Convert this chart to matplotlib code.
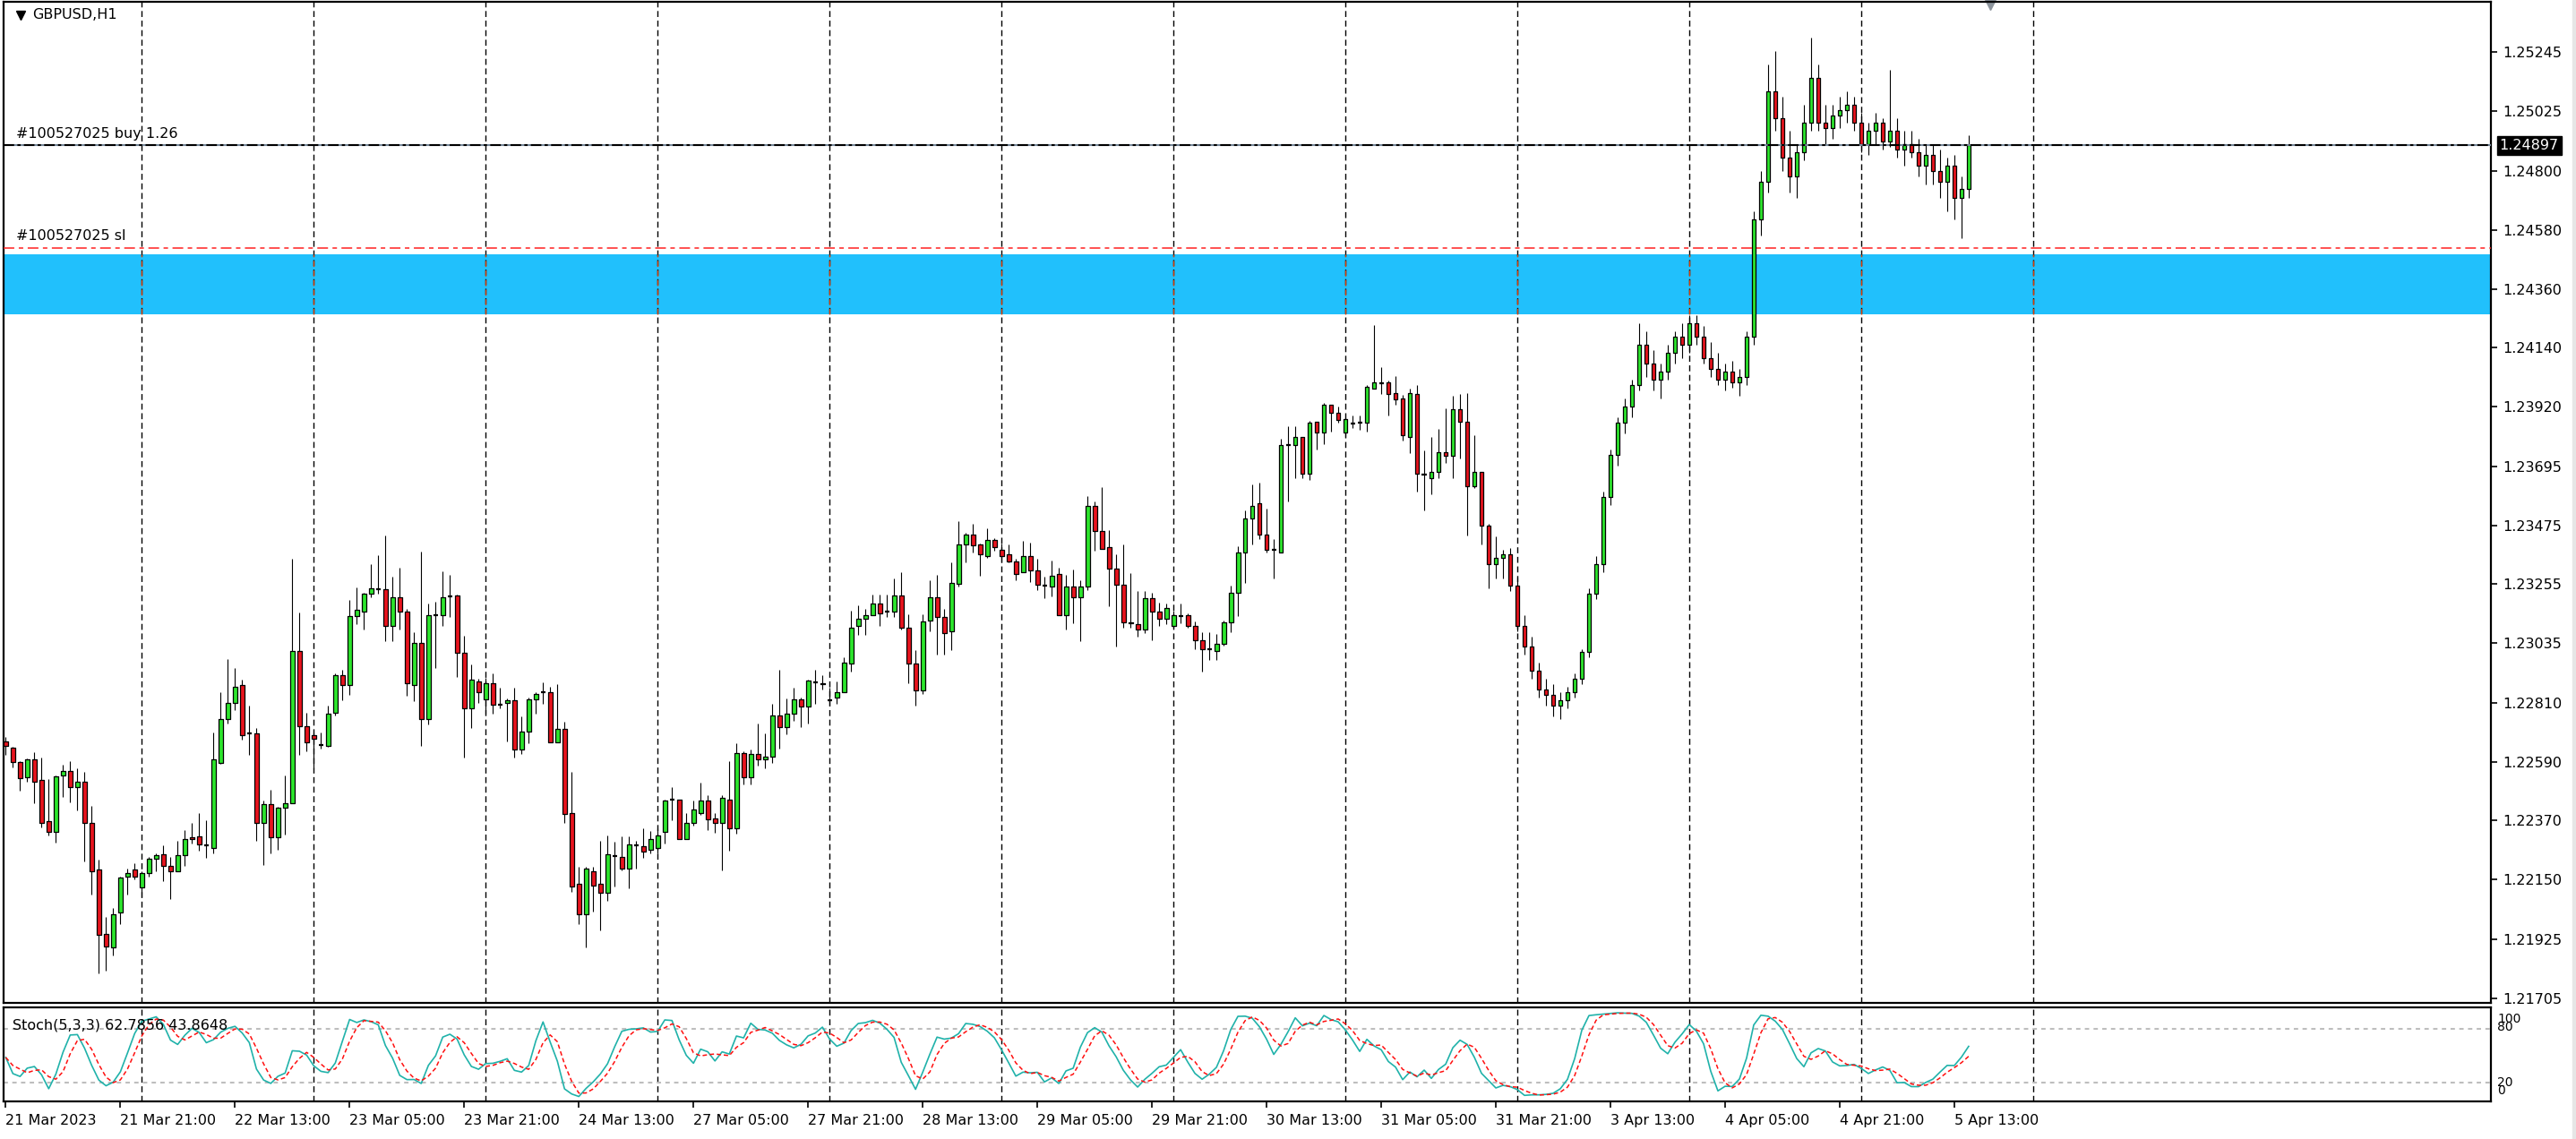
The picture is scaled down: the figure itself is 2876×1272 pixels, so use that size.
import numpy as np
import pandas as pd
import matplotlib
matplotlib.use("Agg")
import matplotlib.pyplot as plt
import matplotlib.transforms as mtransforms
from matplotlib.patches import Rectangle
from matplotlib.collections import PatchCollection

plt.rcParams["font.family"] = "DejaVu Sans"
plt.rcParams["lines.scale_dashes"] = False

# --- data -------------------------------------------------------------
symbol = "GBPUSD,H1"
first_bar_time = "2023-03-21 05:00"

opens = [
    1.22665, 1.22643, 1.22590, 1.22531, 1.22598, 1.22523, 1.22369, 1.22327, 1.22539, 1.22556,
    1.22497, 1.22516, 1.22361, 1.22188, 1.21947, 1.21897, 1.22025, 1.22160, 1.22188, 1.22121,
    1.22173, 1.22229, 1.22243, 1.22201, 1.22179, 1.22240, 1.22307, 1.22310, 1.22279, 1.22268,
    1.22587, 1.22751, 1.22812, 1.22879, 1.22695, 1.22698, 1.22362, 1.22431, 1.22308, 1.22417,
    1.22436, 1.23006, 1.22725, 1.22691, 1.22654, 1.22649, 1.22775, 1.22914, 1.22878, 1.23134,
    1.23151, 1.23218, 1.23237, 1.23235, 1.23098, 1.23207, 1.23153, 1.22878, 1.23034, 1.22749,
    1.23140, 1.23140, 1.23210, 1.23213, 1.22998, 1.22790, 1.22892, 1.22825, 1.22885, 1.22805,
    1.22810, 1.22819, 1.22635, 1.22704, 1.22825, 1.22849, 1.22851, 1.22663, 1.22712, 1.22397,
    1.22134, 1.22019, 1.22182, 1.22134, 1.22099, 1.22238, 1.22235, 1.22192, 1.22279, 1.22274,
    1.22260, 1.22268, 1.22327, 1.22447, 1.22447, 1.22300, 1.22361, 1.22397, 1.22444, 1.22377,
    1.22361, 1.22449, 1.22341, 1.22624, 1.22534, 1.22620, 1.22600, 1.22610, 1.22763, 1.22721,
    1.22771, 1.22824, 1.22797, 1.22888, 1.22883, 1.22821, 1.22830, 1.22851, 1.22959, 1.23098,
    1.23126, 1.23139, 1.23181, 1.23153, 1.23153, 1.23214, 1.23091, 1.22959, 1.22857, 1.23119,
    1.23206, 1.23132, 1.23078, 1.23257, 1.23402, 1.23441, 1.23402, 1.23361, 1.23421, 1.23385,
    1.23366, 1.23340, 1.23299, 1.23359, 1.23307, 1.23251, 1.23246, 1.23294, 1.23139, 1.23246,
    1.23206, 1.23246, 1.23547, 1.23454, 1.23393, 1.23313, 1.23253, 1.23111, 1.23106, 1.23086,
    1.23201, 1.23153, 1.23126, 1.23098, 1.23137, 1.23139, 1.23098, 1.23044, 1.23011, 1.23005,
    1.23031, 1.23111, 1.23221, 1.23374, 1.23500, 1.23556, 1.23441, 1.23383, 1.23374, 1.23776,
    1.23774, 1.23804, 1.23667, 1.23863, 1.23821, 1.23925, 1.23897, 1.23821, 1.23856, 1.23860,
    1.23860, 1.23988, 1.24007, 1.24011, 1.23971, 1.23951, 1.23807, 1.23966, 1.23664, 1.23653,
    1.23675, 1.23750, 1.23734, 1.23910, 1.23862, 1.23622, 1.23675, 1.23474, 1.23331, 1.23354,
    1.23368, 1.23250, 1.23100, 1.23020, 1.22930, 1.22860, 1.22840, 1.22800, 1.22820, 1.22850,
    1.22900, 1.23000, 1.23220, 1.23330, 1.23580, 1.23740, 1.23860, 1.23920, 1.24000, 1.24150,
    1.24080, 1.24020, 1.24050, 1.24120, 1.24180, 1.24150, 1.24230, 1.24180, 1.24100, 1.24060,
    1.24020, 1.24050, 1.24010, 1.24030, 1.24180, 1.24620, 1.24760, 1.25100, 1.25000, 1.24850,
    1.24780, 1.24870, 1.24980, 1.25150, 1.24980, 1.24960, 1.25010, 1.25030, 1.25050, 1.24980,
    1.24900, 1.24950, 1.24980, 1.24910, 1.24950, 1.24880, 1.24900, 1.24870, 1.24820, 1.24860,
    1.24800, 1.24760, 1.24820, 1.24700, 1.24734,
]
highs = [
    1.22684, 1.22646, 1.22592, 1.22603, 1.22626, 1.22606, 1.22525, 1.22539, 1.22579, 1.22592,
    1.22565, 1.22552, 1.22425, 1.22224, 1.22008, 1.22043, 1.22162, 1.22190, 1.22210, 1.22179,
    1.22233, 1.22249, 1.22277, 1.22235, 1.22296, 1.22335, 1.22363, 1.22397, 1.22371, 1.22701,
    1.22852, 1.22974, 1.22941, 1.22899, 1.22799, 1.22718, 1.22445, 1.22484, 1.22423, 1.22539,
    1.23350, 1.23149, 1.22774, 1.22699, 1.22699, 1.22799, 1.22922, 1.22933, 1.23196, 1.23243,
    1.23224, 1.23330, 1.23363, 1.23436, 1.23283, 1.23317, 1.23162, 1.23075, 1.23377, 1.23182,
    1.23190, 1.23304, 1.23291, 1.23215, 1.23062, 1.22954, 1.22900, 1.22903, 1.22920, 1.22866,
    1.22827, 1.22866, 1.22760, 1.22829, 1.22852, 1.22886, 1.22871, 1.22880, 1.22740, 1.22551,
    1.22196, 1.22196, 1.22196, 1.22296, 1.22316, 1.22291, 1.22310, 1.22310, 1.22294, 1.22343,
    1.22330, 1.22341, 1.22450, 1.22497, 1.22450, 1.22397, 1.22445, 1.22512, 1.22464, 1.22397,
    1.22464, 1.22592, 1.22659, 1.22631, 1.22637, 1.22732, 1.22698, 1.22807, 1.22933, 1.22827,
    1.22866, 1.22832, 1.22899, 1.22933, 1.22913, 1.22866, 1.22892, 1.22980, 1.23154, 1.23175,
    1.23162, 1.23215, 1.23215, 1.23215, 1.23276, 1.23301, 1.23142, 1.23008, 1.23142, 1.23268,
    1.23288, 1.23162, 1.23335, 1.23489, 1.23447, 1.23482, 1.23408, 1.23463, 1.23428, 1.23408,
    1.23402, 1.23349, 1.23416, 1.23410, 1.23349, 1.23282, 1.23343, 1.23315, 1.23290, 1.23309,
    1.23268, 1.23583, 1.23564, 1.23617, 1.23456, 1.23368, 1.23402, 1.23296, 1.23229, 1.23229,
    1.23221, 1.23187, 1.23182, 1.23154, 1.23182, 1.23147, 1.23114, 1.23075, 1.23076, 1.23067,
    1.23120, 1.23249, 1.23396, 1.23530, 1.23629, 1.23636, 1.23536, 1.23422, 1.23798, 1.23845,
    1.23845, 1.23804, 1.23865, 1.23863, 1.23932, 1.23925, 1.23919, 1.23877, 1.23885, 1.23885,
    1.23999, 1.24226, 1.24066, 1.24018, 1.24033, 1.23964, 1.23985, 1.23999, 1.23757, 1.23804,
    1.23837, 1.23912, 1.23960, 1.23966, 1.23971, 1.23813, 1.23675, 1.23482, 1.23435, 1.23383,
    1.23390, 1.23280, 1.23140, 1.23060, 1.22960, 1.22900, 1.22880, 1.22850, 1.22870, 1.22920,
    1.23010, 1.23240, 1.23360, 1.23600, 1.23760, 1.23880, 1.23950, 1.24020, 1.24230, 1.24200,
    1.24130, 1.24080, 1.24150, 1.24200, 1.24230, 1.24260, 1.24260, 1.24220, 1.24160, 1.24120,
    1.24080, 1.24090, 1.24060, 1.24200, 1.24650, 1.24800, 1.25200, 1.25250, 1.25080, 1.24950,
    1.24900, 1.25050, 1.25300, 1.25200, 1.25050, 1.25050, 1.25080, 1.25100, 1.25080, 1.25020,
    1.24980, 1.25020, 1.25000, 1.25180, 1.25000, 1.24950, 1.24950, 1.24920, 1.24900, 1.24900,
    1.24880, 1.24850, 1.24860, 1.24780, 1.24935,
]
lows = [
    1.22615, 1.22568, 1.22481, 1.22514, 1.22434, 1.22346, 1.22313, 1.22287, 1.22460, 1.22440,
    1.22407, 1.22218, 1.22092, 1.21799, 1.21810, 1.21864, 1.21983, 1.22092, 1.22151, 1.22084,
    1.22159, 1.22179, 1.22145, 1.22078, 1.22179, 1.22199, 1.22285, 1.22259, 1.22231, 1.22246,
    1.22581, 1.22734, 1.22782, 1.22674, 1.22615, 1.22293, 1.22205, 1.22246, 1.22260, 1.22319,
    1.22434, 1.22615, 1.22628, 1.22568, 1.22641, 1.22646, 1.22762, 1.22822, 1.22842, 1.23104,
    1.23084, 1.23205, 1.23218, 1.23043, 1.23043, 1.23084, 1.22836, 1.22816, 1.22649, 1.22729,
    1.22942, 1.23098, 1.23131, 1.22909, 1.22607, 1.22716, 1.22811, 1.22769, 1.22769, 1.22792,
    1.22668, 1.22607, 1.22620, 1.22661, 1.22769, 1.22808, 1.22663, 1.22663, 1.22360, 1.22104,
    1.21983, 1.21897, 1.22030, 1.21958, 1.22071, 1.22125, 1.22185, 1.22118, 1.22192, 1.22231,
    1.22248, 1.22246, 1.22285, 1.22372, 1.22300, 1.22300, 1.22352, 1.22391, 1.22333, 1.22326,
    1.22185, 1.22259, 1.22321, 1.22506, 1.22506, 1.22575, 1.22565, 1.22585, 1.22640, 1.22693,
    1.22743, 1.22721, 1.22735, 1.22808, 1.22862, 1.22802, 1.22808, 1.22851, 1.22929, 1.23064,
    1.23064, 1.23139, 1.23097, 1.23131, 1.23131, 1.23084, 1.22883, 1.22802, 1.22843, 1.23078,
    1.22991, 1.22991, 1.23009, 1.23246, 1.23338, 1.23372, 1.23285, 1.23352, 1.23380, 1.23335,
    1.23338, 1.23270, 1.23299, 1.23264, 1.23232, 1.23204, 1.23210, 1.23139, 1.23084, 1.23109,
    1.23042, 1.23232, 1.23380, 1.23387, 1.23171, 1.23022, 1.23091, 1.23091, 1.23058, 1.23072,
    1.23044, 1.23097, 1.23104, 1.23092, 1.23109, 1.23091, 1.23011, 1.22929, 1.22970, 1.22970,
    1.23024, 1.23076, 1.23137, 1.23259, 1.23405, 1.23424, 1.23372, 1.23277, 1.23372, 1.23564,
    1.23653, 1.23653, 1.23645, 1.23759, 1.23779, 1.23826, 1.23860, 1.23807, 1.23840, 1.23834,
    1.23826, 1.23988, 1.23968, 1.23885, 1.23927, 1.23793, 1.23746, 1.23600, 1.23532, 1.23592,
    1.23653, 1.23707, 1.23653, 1.23726, 1.23438, 1.23614, 1.23404, 1.23238, 1.23277, 1.23277,
    1.23230, 1.23080, 1.22990, 1.22900, 1.22830, 1.22800, 1.22760, 1.22750, 1.22790, 1.22830,
    1.22880, 1.22980, 1.23200, 1.23300, 1.23550, 1.23700, 1.23820, 1.23880, 1.23980, 1.24030,
    1.23980, 1.23950, 1.24020, 1.24080, 1.24100, 1.24120, 1.24150, 1.24080, 1.24030, 1.24000,
    1.23980, 1.23990, 1.23960, 1.24000, 1.24150, 1.24560, 1.24720, 1.24950, 1.24800, 1.24720,
    1.24700, 1.24840, 1.24950, 1.24950, 1.24900, 1.24920, 1.24960, 1.24980, 1.24950, 1.24870,
    1.24860, 1.24900, 1.24880, 1.24890, 1.24850, 1.24820, 1.24850, 1.24780, 1.24750, 1.24750,
    1.24700, 1.24650, 1.24620, 1.24550, 1.24700,
]
closes = [
    1.22648, 1.22590, 1.22529, 1.22598, 1.22516, 1.22361, 1.22327, 1.22536, 1.22556, 1.22495,
    1.22516, 1.22361, 1.22179, 1.21944, 1.21900, 1.22020, 1.22157, 1.22173, 1.22160, 1.22173,
    1.22227, 1.22240, 1.22199, 1.22181, 1.22240, 1.22302, 1.22302, 1.22282, 1.22279, 1.22598,
    1.22751, 1.22810, 1.22871, 1.22691, 1.22695, 1.22361, 1.22431, 1.22308, 1.22417, 1.22436,
    1.23006, 1.22725, 1.22663, 1.22676, 1.22654, 1.22771, 1.22914, 1.22878, 1.23134, 1.23160,
    1.23220, 1.23241, 1.23237, 1.23098, 1.23207, 1.23151, 1.22883, 1.23034, 1.22749, 1.23140,
    1.23140, 1.23207, 1.23210, 1.22998, 1.22790, 1.22898, 1.22852, 1.22885, 1.22805, 1.22805,
    1.22819, 1.22635, 1.22704, 1.22825, 1.22844, 1.22849, 1.22663, 1.22712, 1.22395, 1.22125,
    1.22019, 1.22190, 1.22126, 1.22101, 1.22243, 1.22238, 1.22192, 1.22282, 1.22279, 1.22255,
    1.22302, 1.22316, 1.22445, 1.22447, 1.22300, 1.22361, 1.22411, 1.22444, 1.22374, 1.22361,
    1.22456, 1.22341, 1.22624, 1.22534, 1.22620, 1.22600, 1.22610, 1.22763, 1.22721, 1.22771,
    1.22824, 1.22797, 1.22894, 1.22888, 1.22880, 1.22821, 1.22851, 1.22961, 1.23093, 1.23126,
    1.23139, 1.23181, 1.23145, 1.23153, 1.23214, 1.23091, 1.22959, 1.22857, 1.23114, 1.23206,
    1.23132, 1.23072, 1.23259, 1.23402, 1.23439, 1.23399, 1.23368, 1.23421, 1.23393, 1.23361,
    1.23340, 1.23292, 1.23359, 1.23307, 1.23254, 1.23251, 1.23287, 1.23139, 1.23246, 1.23206,
    1.23246, 1.23547, 1.23454, 1.23387, 1.23313, 1.23253, 1.23111, 1.23108, 1.23086, 1.23201,
    1.23153, 1.23126, 1.23165, 1.23139, 1.23137, 1.23098, 1.23044, 1.23011, 1.23011, 1.23031,
    1.23111, 1.23221, 1.23374, 1.23500, 1.23547, 1.23439, 1.23385, 1.23383, 1.23776, 1.23776,
    1.23804, 1.23667, 1.23858, 1.23821, 1.23925, 1.23896, 1.23868, 1.23871, 1.23856, 1.23860,
    1.23992, 1.24011, 1.24007, 1.23968, 1.23947, 1.23813, 1.23969, 1.23667, 1.23664, 1.23675,
    1.23750, 1.23735, 1.23910, 1.23862, 1.23622, 1.23675, 1.23474, 1.23331, 1.23354, 1.23368,
    1.23250, 1.23100, 1.23020, 1.22930, 1.22860, 1.22840, 1.22800, 1.22820, 1.22850, 1.22900,
    1.23000, 1.23220, 1.23330, 1.23580, 1.23740, 1.23860, 1.23920, 1.24000, 1.24150, 1.24080,
    1.24020, 1.24050, 1.24120, 1.24180, 1.24150, 1.24230, 1.24180, 1.24100, 1.24060, 1.24020,
    1.24050, 1.24010, 1.24030, 1.24180, 1.24620, 1.24760, 1.25100, 1.25000, 1.24850, 1.24780,
    1.24870, 1.24980, 1.25150, 1.24980, 1.24960, 1.25010, 1.25030, 1.25050, 1.24980, 1.24900,
    1.24950, 1.24980, 1.24910, 1.24950, 1.24880, 1.24900, 1.24870, 1.24820, 1.24860, 1.24800,
    1.24760, 1.24820, 1.24700, 1.24734, 1.24897,
]

price_ticks = [1.25245, 1.25025, 1.24800, 1.24580, 1.24360, 1.24140, 1.23920, 1.23695,
               1.23475, 1.23255, 1.23035, 1.22810, 1.22590, 1.22370, 1.22150, 1.21925, 1.21705]
price_range = (1.21688, 1.25434)
label_every = 16

bid_price = 1.24897
buy_text = "#100527025 buy 1.26"
sl_price = 1.24513
sl_text = "#100527025 sl"
zone_low, zone_high = 1.24265, 1.24489

stoch_text = "Stoch(5,3,3) 62.7856 43.8648"
stoch_levels = [20, 80]
stoch_scale_labels = {"100": 100, "80": 80, "20": 20, "0": 0}

# --- layout (pixels of the 2876x1272 picture) --------------------------
W, H = 2876, 1272
x_range = (-0.3, 346.9)
up_color = "#2DE62D"
down_color = "#E8141E"
zone_color = "#21C0FC"

fig = plt.figure(figsize=(W / 100, H / 100), dpi=100)
fig.patch.set_facecolor("white")
fig.patches.append(Rectangle((2872 / W, 0), 4 / W, 1, transform=fig.transFigure,
                             color="#E6E6E6", zorder=0))

ax = fig.add_axes([4 / W, 1 - 1120 / H, 2777 / W, 1118 / H])
ax2 = fig.add_axes([4 / W, 1 - 1230 / H, 2777 / W, 105 / H])

n = len(closes)
x = np.arange(n)
o = np.array(opens)
h = np.array(highs)
l = np.array(lows)
c = np.array(closes)

# time axis: hourly bars, weekends skipped
slots = pd.date_range(first_bar_time, periods=24 * 25, freq="h")
slots = slots[slots.dayofweek < 5]
label_idx = list(range(0, n, label_every))
time_labels = [f"{slots[0].day} {slots[0]:%b %Y}"]
time_labels += [f"{slots[i].day} {slots[i]:%b %H:%M}" for i in label_idx[1:]]
sep_idx = [i for i in range(n + 10) if slots[i].hour == 0]

# --- main price panel ---------------------------------------------------
ax.set_xlim(*x_range)
ax.set_ylim(*price_range)
ax.axhspan(zone_low, zone_high, color=zone_color, zorder=1, lw=0)

for s in sep_idx:
    ax.axvline(s, color="black", lw=1.0, ls=(0, (4.8, 2.9)), zorder=2)
    ax.vlines(s, zone_low, zone_high, color="#DE3F03", lw=1.0, ls=(0, (4.8, 2.9)), zorder=2.5)

# candles
ax.vlines(x, l, h, color="black", lw=0.8, zorder=3)
bodies = []
colors = []
doji = np.abs(c - o) < 0.000015
for i in range(n):
    if doji[i]:
        continue
    bodies.append(Rectangle((i - 0.3, min(o[i], c[i])), 0.6, abs(c[i] - o[i])))
    colors.append(up_color if c[i] > o[i] else down_color)
pc = PatchCollection(bodies, facecolors=colors, edgecolors="black", linewidths=0.9, zorder=4)
ax.add_collection(pc)
ax.hlines(c[doji], x[doji] - 0.32, x[doji] + 0.32, color="black", lw=1.6, zorder=4)

# order lines
ax.axhline(bid_price, color="#778899", lw=1.5, zorder=5)
ax.axhline(bid_price, color="black", lw=1.5, ls=(0, (8.5, 2.6, 2.6, 2.6)), zorder=5.5)
ax.axhline(sl_price, color="#FF2020", lw=1.1, ls=(0, (8.6, 3.6, 3.6, 3.6)), zorder=5)

blend = mtransforms.blended_transform_factory(ax.transAxes, ax.transData)
ax.annotate(buy_text, xy=(0.005, bid_price), xycoords=blend, xytext=(0, 4),
            textcoords="offset points", va="bottom", ha="left", fontsize=11.5)
ax.annotate(sl_text, xy=(0.005, sl_price), xycoords=blend, xytext=(0, 4),
            textcoords="offset points", va="bottom", ha="left", fontsize=11.5)
ax.annotate(f"{bid_price:.5f}", xy=(1, bid_price), xycoords=blend, xytext=(7, 0),
            textcoords="offset points", va="center", ha="left", color="white",
            fontsize=11.5, annotation_clip=False,
            bbox=dict(boxstyle="square,pad=0.18", fc="black", ec="black"))

ax.text(0.0115, 0.9866, symbol, transform=ax.transAxes, va="center", ha="left", fontsize=11.5)
ax.plot([0.0067], [0.9866], marker="v", color="black", ms=7, transform=ax.transAxes)
top_blend = mtransforms.blended_transform_factory(ax.transData, ax.transAxes)
ax.plot([n + 2], [0.999], marker="v", color="#8C949C", ms=11, transform=top_blend, clip_on=False)

ax.yaxis.tick_right()
ax.set_yticks(price_ticks)
ax.set_yticklabels([f"{p:.5f}" for p in price_ticks])
ax.tick_params(axis="y", direction="out", length=5, width=1.2, pad=4.5, labelsize=11.5)
ax.set_xticks([])
for sp in ax.spines.values():
    sp.set_linewidth(1.6)

# --- stochastic panel -------------------------------------------------
df = pd.DataFrame({"high": h, "low": l, "close": c})
hh = df["high"].rolling(5, min_periods=1).max()
ll = df["low"].rolling(5, min_periods=1).min()
k_line = 100 * (df["close"] - ll).rolling(3, min_periods=1).sum() / (hh - ll).rolling(3, min_periods=1).sum()
d_line = k_line.rolling(3, min_periods=1).mean()

ax2.set_xlim(*x_range)
ax2.set_ylim(-1.3, 103.7)
for s in sep_idx:
    ax2.axvline(s, color="black", lw=1.0, ls=(0, (4.8, 2.9)), zorder=1)
for lvl in stoch_levels:
    ax2.axhline(lvl, color="#BEBEBE", lw=1.5, ls=(0, (3.5, 3.5)), zorder=1)
ax2.plot(x, k_line, color="#20B2AA", lw=1.2, zorder=3)
ax2.plot(x, d_line, color="#FF1010", lw=1.1, ls=(0, (3.5, 2.2)), zorder=3)
ax2.text(0.0036, 0.81, stoch_text, transform=ax2.transAxes, va="center", ha="left", fontsize=11.5)

blend2 = mtransforms.blended_transform_factory(ax2.transAxes, ax2.transData)
label_offsets = {"100": -7, "80": 1, "20": 0, "0": 8}
for txt, val in stoch_scale_labels.items():
    ax2.annotate(txt, xy=(1, val), xycoords=blend2, xytext=(5, label_offsets[txt]),
                 textcoords="offset points", va="center", ha="left", fontsize=10,
                 annotation_clip=False)

ax2.set_yticks([])
ax2.set_xticks(label_idx)
ax2.set_xticklabels(time_labels)
for lbl in ax2.get_xticklabels():
    lbl.set_ha("left")
ax2.tick_params(axis="x", direction="out", length=5, width=1.2, pad=5, labelsize=11.5)
for sp in ax2.spines.values():
    sp.set_linewidth(1.6)

fig.savefig("out.png", dpi=100)
